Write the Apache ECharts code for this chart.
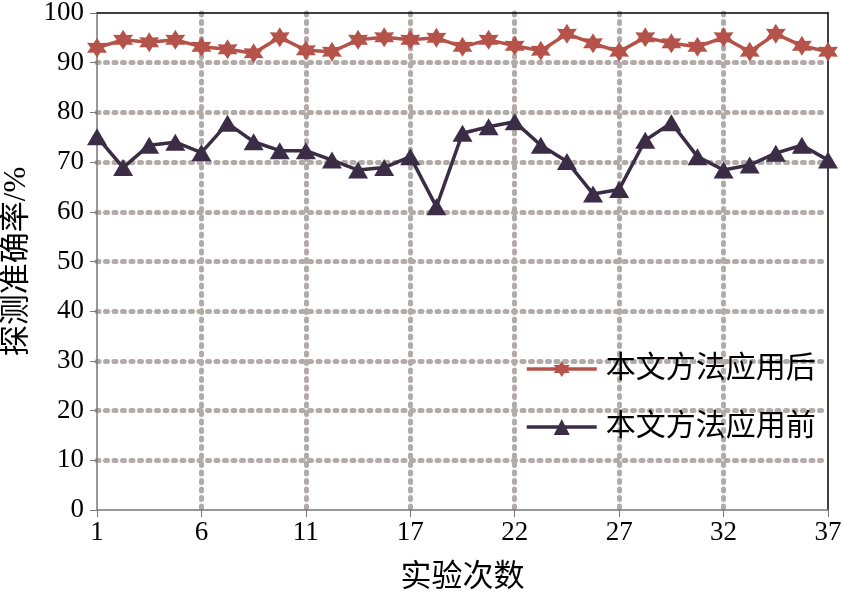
<!DOCTYPE html>
<html><head><meta charset="utf-8">
<script src="https://cdn.jsdelivr.net/npm/echarts@6/dist/echarts.min.js"></script>
<style>html,body{margin:0;padding:0;background:#fff}#c{width:843px;height:593px}</style>
</head><body><div id="c"></div>
<script>
var tickLabels = ['1','6','11','17','22','27','32','37'];
var pointCount = 29;
var seriesNames = ['本文方法应用后','本文方法应用前'];
var afterValues = [93.0, 94.6, 94.1, 94.6, 93.2, 92.7, 91.9, 95.1, 92.5, 92.2, 94.6, 95.1, 94.6, 95.0, 93.2, 94.6, 93.4, 92.4, 95.8, 93.9, 92.2, 95.1, 93.9, 93.2, 95.1, 92.2, 95.8, 93.4, 92.2];
var beforeValues = [75.1, 68.9, 73.4, 74.0, 71.9, 77.8, 74.1, 72.3, 72.3, 70.4, 68.4, 68.9, 71.1, 61.0, 75.8, 77.1, 78.1, 73.4, 70.1, 63.6, 64.5, 74.4, 77.9, 71.1, 68.4, 69.4, 71.8, 73.4, 70.4];

var step = (pointCount - 1) / (tickLabels.length - 1);
var categories = [];
for (var i = 0; i < pointCount; i++) {
  categories.push(i % step === 0 ? tickLabels[i / step] : String(i));
}
// six-pointed star path
var pts = [];
for (var k = 0; k < 12; k++) {
  var r = k % 2 === 0 ? 10 : 5.6;
  var a = (-90 + 30 * k) * Math.PI / 180;
  pts.push((r * Math.cos(a)).toFixed(2) + ' ' + (r * Math.sin(a)).toFixed(2));
}
var starPath = 'path://M' + pts.join(' L') + ' Z';

var gridColor = '#b3aba7';
var serif = 'Liberation Serif, Times New Roman, Noto Sans CJK SC, serif';
var gridLine = {color: gridColor, width: 5, type: [2, 6.5], cap: 'round'};
var chart = echarts.init(document.getElementById('c'));
chart.setOption({
  backgroundColor: '#fff',
  animation: false,
  grid: {left: 97, right: 15, top: 13, bottom: 83, outerBoundsMode: 'none', containLabel: false},
  legend: {
    left: 520, top: 349, orient: 'vertical', itemWidth: 70, itemHeight: 20, itemGap: 28,
    lineStyle: {width: 3.5},
    textStyle: {fontFamily: serif, fontSize: 30, color: '#000', padding: [0,0,0,4]},
    data: seriesNames
  },
  xAxis: [{
    type: 'category', data: categories, boundaryGap: false,
    name: '实验次数', nameLocation: 'middle', nameGap: 52,
    nameTextStyle: {fontFamily: serif, fontSize: 31, color: '#000'},
    axisLine: {lineStyle: {color: '#777', width: 1.5}},
    axisTick: {show: true, interval: step - 1, length: 7, lineStyle: {color: '#777'}},
    axisLabel: {interval: step - 1, fontFamily: serif, fontSize: 27, color: '#000', margin: 9},
    splitLine: {show: true, interval: step - 1, showMinLine: false, showMaxLine: false, lineStyle: gridLine}
  }, {
    type: 'category', data: categories, boundaryGap: false, position: 'top',
    axisLine: {onZero: false, lineStyle: {color: '#000', width: 1.5}},
    axisTick: {show: false}, axisLabel: {show: false}, splitLine: {show: false}
  }],
  yAxis: [{
    type: 'value', min: 0, max: 100, interval: 10,
    name: '探测准确率/%', nameLocation: 'middle', nameGap: 65,
    nameTextStyle: {fontFamily: serif, fontSize: 31, color: '#000'},
    axisLine: {show: true, lineStyle: {color: '#777', width: 1.5}},
    axisTick: {show: true, length: 7, lineStyle: {color: '#777'}},
    axisLabel: {fontFamily: serif, fontSize: 27, color: '#000', margin: 13},
    splitLine: {show: true, showMinLine: false, showMaxLine: false, lineStyle: gridLine}
  }, {
    type: 'value', min: 0, max: 100, interval: 10, position: 'right',
    axisLine: {show: true, onZero: false, lineStyle: {color: '#000', width: 1.5}},
    axisTick: {show: false}, axisLabel: {show: false}, splitLine: {show: false}
  }],
  series: [{
    name: seriesNames[0], type: 'line', data: afterValues,
    symbol: starPath, symbolSize: 20, showAllSymbol: true,
    lineStyle: {color: '#b5534a', width: 3.5},
    itemStyle: {color: '#b5534a', borderWidth: 0}, z: 3
  }, {
    name: seriesNames[1], type: 'line', data: beforeValues,
    symbol: 'triangle', symbolSize: [20, 17], showAllSymbol: true,
    lineStyle: {color: '#3a2d45', width: 3.5},
    itemStyle: {color: '#3a2d45', borderWidth: 0}, z: 3
  }]
});
</script></body></html>
